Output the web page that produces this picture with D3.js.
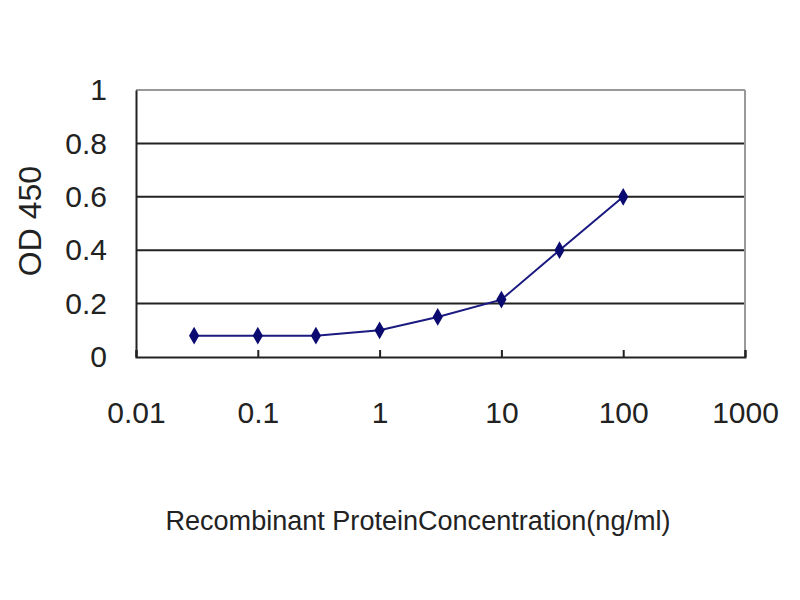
<!DOCTYPE html>
<html><head><meta charset="utf-8">
<script src="https://cdn.jsdelivr.net/npm/d3@7"></script>
<style>body{margin:0;background:#fff}svg{display:block}</style>
</head><body>
<svg id="c" width="800" height="600"></svg>
<script>
const concentrations = [0.03, 0.1, 0.3, 1, 3, 10, 30, 100];
const odValues = [0.08, 0.08, 0.08, 0.10, 0.15, 0.215, 0.40, 0.60];
const xTicks = [0.01, 0.1, 1, 10, 100, 1000];
const xTickLabels = ["0.01", "0.1", "1", "10", "100", "1000"];
const yTicks = [0, 0.2, 0.4, 0.6, 0.8, 1];
const yTickLabels = ["0", "0.2", "0.4", "0.6", "0.8", "1"];

const svg = d3.select("#c");
const L = 136, R = 745, T = 90, B = 357;
const x = d3.scaleLog().domain([0.01, 1000]).range([L, R]);
const y = d3.scaleLinear().domain([0, 1]).range([B, T]);
const font = "'Liberation Sans', Arial, sans-serif";

// gridlines
svg.append("g").selectAll("line").data(yTicks.filter(d => d > 0 && d < 1)).join("line")
  .attr("x1", L).attr("x2", R).attr("y1", d => y(d)).attr("y2", d => y(d))
  .attr("stroke", "#222").attr("stroke-width", 2);
// frame top/right gray
svg.append("line").attr("x1", L).attr("x2", R).attr("y1", y(1)).attr("y2", y(1)).attr("stroke", "#999").attr("stroke-width", 2);
svg.append("line").attr("x1", R).attr("x2", R).attr("y1", y(1)).attr("y2", B).attr("stroke", "#999").attr("stroke-width", 2);

// axes
const yAxis = d3.axisLeft(y).tickValues(yTicks).tickFormat((d, i) => yTickLabels[i]).tickSize(0).tickPadding(29);
const gy = svg.append("g").attr("transform", `translate(${L},0)`).call(yAxis);
gy.select(".domain").attr("stroke", "#222").attr("stroke-width", 2);
gy.selectAll("text").attr("font-family", font).attr("font-size", 30).attr("fill", "#222");

const xAxis = d3.axisBottom(x).tickValues(xTicks).tickFormat((d, i) => xTickLabels[i]).tickSize(-7).tickPadding(45);
const gx = svg.append("g").attr("transform", `translate(0,${B})`).call(xAxis);
gx.select(".domain").attr("stroke", "#222").attr("stroke-width", 2);
gx.selectAll(".tick line").attr("stroke", "#222").attr("stroke-width", 2);
gx.selectAll("text").attr("font-family", font).attr("font-size", 30).attr("fill", "#222");

// line
const line = d3.line().x((d, i) => x(concentrations[i])).y(d => y(d));
svg.append("path").datum(odValues).attr("d", line).attr("fill", "none")
  .attr("stroke", "#1a1a80").attr("stroke-width", 2);
svg.append("g").selectAll("path").data(odValues).join("path")
  .attr("d", d3.symbol().type(d3.symbolDiamond).size(90))
  .attr("transform", (d, i) => `translate(${x(concentrations[i])},${y(d)})`)
  .attr("fill", "#0a0a70");

// titles
svg.append("text").attr("x", 418).attr("y", 530).attr("text-anchor", "middle")
  .attr("font-family", font).attr("font-size", 27).attr("fill", "#222")
  .attr("textLength", 505).attr("lengthAdjust", "spacingAndGlyphs")
  .text("Recombinant ProteinConcentration(ng/ml)");
svg.append("text").attr("transform", "translate(41,221) rotate(-90)").attr("text-anchor", "middle")
  .attr("font-family", font).attr("font-size", 32).attr("fill", "#222")
  .text("OD 450");
</script>
</body></html>
